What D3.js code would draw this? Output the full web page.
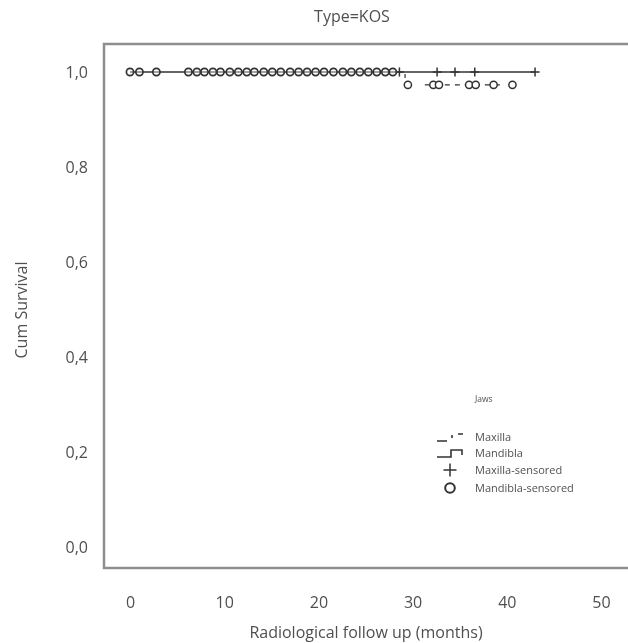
<!DOCTYPE html>
<html>
<head>
<meta charset="utf-8">
<script src="https://cdn.jsdelivr.net/npm/d3@7"></script>
<style>
  body { margin: 0; background: #fff; }
  svg { display: block; font-family: "Open Sans", sans-serif; }
</style>
</head>
<body>
<svg id="chart" width="628" height="643"></svg>
<script>
// data
const title = "Type=KOS";
const xTicks = [0, 10, 20, 30, 40, 50];
const yTicks = [0, 0.2, 0.4, 0.6, 0.8, 1.0];
const legendTitle = "Jaws";
const legendLabels = ["Maxilla", "Mandibla", "Maxilla-sensored", "Mandibla-sensored"];

// main survival curve (stays at 1.0)
const curveTimes = [0, 43.0];
const curveSurvival = [1.0, 1.0];
// censored marks on the main curve
const mandiblaCensored = [0, 1.0, 2.8, 6.2, 7.1, 7.9, 8.8, 9.6, 10.6, 11.5, 12.4, 13.2, 14.2,
  15.1, 16.0, 17.0, 17.9, 18.8, 19.7, 20.6, 21.6, 22.6, 23.5, 24.4, 25.3, 26.2, 27.1, 27.9];
const maxillaCensored = [28.6, 32.6, 34.5, 36.6, 43.0];
// second row of marks just under the curve
const lowerSurvival = 0.973;
const lowerDashFrom = 31.3;
const lowerDashTo = 39.7;
const lowerCensored = [29.5, 32.2, 32.8, 36.0, 36.7, 38.6, 40.6];

const svg = d3.select("#chart");
const defs = svg.append("defs");
defs.append("filter").attr("id", "soft")
  .append("feGaussianBlur").attr("stdDeviation", 0.55);
const root = svg.append("g").attr("filter", "url(#soft)");

const x = d3.scaleLinear().domain([0, 50]).range([130, 601]);
const y = d3.scaleLinear().domain([0, 1]).range([547, 72]);

const frameLeft = 104, frameTop = 44, frameBottom = 568;
const ink = "#333";
const textColor = "#505050";
const fontSize = 16;

// frame (open on the right, cut by the picture edge)
root.append("path")
  .attr("d", `M630,${frameTop}H${frameLeft}V${frameBottom}H630`)
  .attr("fill", "none")
  .attr("stroke", "#8e8e8e")
  .attr("stroke-width", 2.5);

root.append("text")
  .attr("x", 352)
  .attr("y", 22)
  .attr("text-anchor", "middle")
  .attr("font-size", fontSize)
  .attr("fill", textColor)
  .text(title);

const fmt = (d) => d3.format(".1f")(d).replace(".", ",");

const yAxis = root.append("g")
  .attr("transform", `translate(${frameLeft},0)`)
  .call(d3.axisLeft(y).tickValues(yTicks).tickSize(0).tickPadding(16).tickFormat(fmt));
yAxis.select(".domain").remove();
yAxis.selectAll("text").attr("font-size", fontSize).attr("fill", textColor).attr("font-family", "Open Sans");

const xAxis = root.append("g")
  .attr("transform", `translate(0,${frameBottom})`)
  .call(d3.axisBottom(x).tickValues(xTicks).tickSize(0).tickPadding(29));
xAxis.select(".domain").remove();
xAxis.selectAll("text").attr("font-size", fontSize).attr("fill", textColor).attr("font-family", "Open Sans");

root.append("text")
  .attr("x", 366)
  .attr("y", 638)
  .attr("text-anchor", "middle")
  .attr("font-size", fontSize)
  .attr("fill", textColor)
  .text("Radiological follow up (months)");

root.append("text")
  .attr("transform", `translate(27,310) rotate(-90)`)
  .attr("text-anchor", "middle")
  .attr("font-size", fontSize)
  .attr("fill", textColor)
  .text("Cum Survival");

// main curve
const line = d3.line().x((d) => x(d[0])).y((d) => y(d[1])).curve(d3.curveStepAfter);
root.append("path")
  .attr("d", line(d3.zip(curveTimes, curveSurvival)))
  .attr("fill", "none")
  .attr("stroke", ink)
  .attr("stroke-width", 1.4);

function plus(g, cx, cy, s) {
  g.append("path")
    .attr("d", `M${cx - s},${cy}H${cx + s}M${cx},${cy - s}V${cy + s}`)
    .attr("stroke", ink)
    .attr("stroke-width", 1.5)
    .attr("fill", "none");
}

const marks = root.append("g");
maxillaCensored.forEach((t) => plus(marks, x(t), y(1), 4.5));
marks.append("path")
  .attr("d", `M${x(29.2)},${y(1) + 2}v4`)
  .attr("stroke", ink)
  .attr("stroke-width", 1.2);

marks.selectAll("circle.upper")
  .data(mandiblaCensored)
  .join("circle")
  .attr("class", "upper")
  .attr("cx", (d) => x(d))
  .attr("cy", y(1))
  .attr("r", 3.6)
  .attr("fill", "#fff")
  .attr("fill-opacity", 0.4)
  .attr("stroke", ink)
  .attr("stroke-width", 1.7);

// lower row
marks.append("line")
  .attr("x1", x(lowerDashFrom))
  .attr("x2", x(lowerDashTo))
  .attr("y1", y(lowerSurvival))
  .attr("y2", y(lowerSurvival))
  .attr("stroke", ink)
  .attr("stroke-width", 1.3)
  .attr("stroke-dasharray", "5,5");
marks.selectAll("circle.lower")
  .data(lowerCensored)
  .join("circle")
  .attr("class", "lower")
  .attr("cx", (d) => x(d))
  .attr("cy", y(lowerSurvival))
  .attr("r", 3.6)
  .attr("fill", "#fff")
  .attr("stroke", ink)
  .attr("stroke-width", 1.5);

// legend
const legend = root.append("g").attr("transform", "translate(437,0)");
legend.append("text")
  .attr("x", 38).attr("y", 402)
  .attr("font-size", 8.5).attr("fill", textColor)
  .text(legendTitle);
const rowY = [437, 453, 470, 488];
legend.selectAll("text.item")
  .data(legendLabels)
  .join("text")
  .attr("class", "item")
  .attr("x", 38)
  .attr("y", (d, i) => rowY[i] + 4)
  .attr("font-size", 11)
  .attr("fill", textColor)
  .text((d) => d);
// maxilla: dashed
legend.append("path")
  .attr("d", `M0,${rowY[0] + 4}H10M15,${rowY[0] - 2}V${rowY[0] + 1}M21,${rowY[0] - 3}H26`)
  .attr("stroke", ink).attr("stroke-width", 1.6).attr("fill", "none");
// mandibla: step
legend.append("path")
  .attr("d", `M0,${rowY[1] + 4}H14V${rowY[1] - 3}H25V${rowY[1] + 2}`)
  .attr("stroke", ink).attr("stroke-width", 1.6).attr("fill", "none");
plus(legend, 13, rowY[2], 6.5);
legend.append("circle")
  .attr("cx", 13).attr("cy", rowY[3]).attr("r", 4.8)
  .attr("fill", "#fff").attr("stroke", ink).attr("stroke-width", 2);
</script>
</body>
</html>
